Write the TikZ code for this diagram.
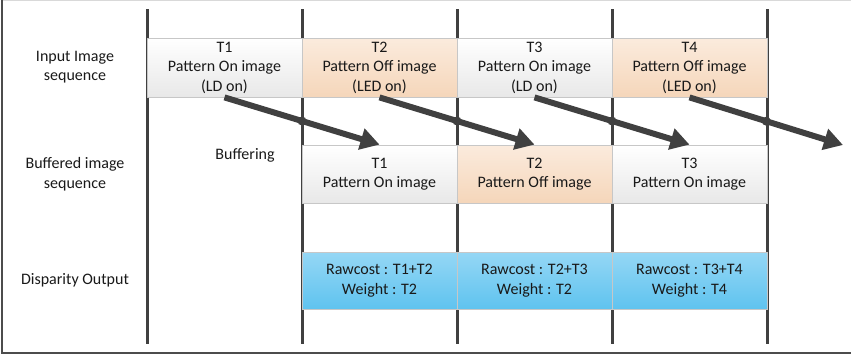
\documentclass[tikz,border=0pt]{standalone}
\usepackage{fontspec}
\setmainfont{Carlito}
\usetikzlibrary{positioning, arrows.meta}
\definecolor{bar}{HTML}{404040}
\definecolor{offtop}{HTML}{FBEBDD}
\definecolor{offbot}{HTML}{F5D6BA}
\definecolor{disptop}{HTML}{95D7F5}
\definecolor{dispbot}{HTML}{5FC3EF}
\tikzstyle{frame}=[draw=black!70, line width=1.5pt]
\tikzstyle{tick}=[draw=bar, line width=3pt]
\tikzstyle{cell}=[draw=black!22, line width=0.8pt, minimum width=155pt, minimum height=59pt,
                  inner sep=0pt, align=center, text=black!90, font=\fontsize{16}{19.5}\selectfont]
\tikzstyle{oncell}=[cell, top color=white, bottom color=black!9]
\tikzstyle{offcell}=[cell, top color=offtop, bottom color=offbot]
\tikzstyle{dispcell}=[cell, top color=disptop, bottom color=dispbot]
\tikzstyle{rowlbl}=[align=center, text=black!90, font=\fontsize{16}{19.5}\selectfont]
\tikzstyle{flow}=[draw=bar, line width=6pt, -{Triangle[length=19pt,width=21pt]}]
\tikzstyle{dot}=[circle, fill=bar, inner sep=0pt, minimum size=9pt]

\begin{document}
\begin{tikzpicture}[x=1pt,y=-1pt]
    \useasboundingbox (0,0) rectangle (851,357);
    % frame
    \draw[black!15, line width=1pt] (2,0.5) -- (851,0.5);
    \draw[frame] (2,0) -- (2,353) -- (851,353);
    % time ticks
    \foreach \x [count=\k] in {147,302,457,612,767}
        \draw[tick] (\x,9) coordinate (top\k) -- (\x,344) coordinate (bot\k);
    % row labels
    \node[rowlbl] (lin) at (75,67) {Input Image\\sequence};
    \node[rowlbl] (lbuf) at (75,174) {Buffered image\\sequence};
    \node[rowlbl] (ldisp) at (75,280) {Disparity Output};
    \node[rowlbl] (lbuffering) at (245,155) {Buffering};
    % input images
    \foreach \i/\x/\s/\t in {1/224.5/oncell/{T1\\Pattern On image\\(LD on)},
                             2/379.5/offcell/{T2\\Pattern Off image\\(LED on)},
                             3/534.5/oncell/{T3\\Pattern On image\\(LD on)},
                             4/689.5/offcell/{T4\\Pattern Off image\\(LED on)}}
        \node[\s] (in\i) at (\x,67.5) {\t};
    % buffered images
    \foreach \i/\x/\s/\t in {1/379.5/oncell/{T1\\Pattern On image},
                             2/534.5/offcell/{T2\\Pattern Off image},
                             3/689.5/oncell/{T3\\Pattern On image}}
        \node[\s, minimum height=58pt] (buf\i) at (\x,174) {\t};
    % disparity output
    \foreach \i/\x/\t in {1/379.5/{Rawcost : T1+T2\\Weight : T2},
                          2/534.5/{Rawcost : T2+T3\\Weight : T2},
                          3/689.5/{Rawcost : T3+T4\\Weight : T4}}
        \node[dispcell, minimum height=57pt] (disp\i) at (\x,280.5) {\t};
    % buffering arrows
    \coordinate (next) at (843,145);
    \foreach \i in {1,2,3}
        \draw[flow] (in\i.south) -- node[dot] (cross\i) {} (buf\i.north);
    \draw[flow] (in4.south) -- node[dot] (cross4) {} (next);
\end{tikzpicture}
\end{document}
